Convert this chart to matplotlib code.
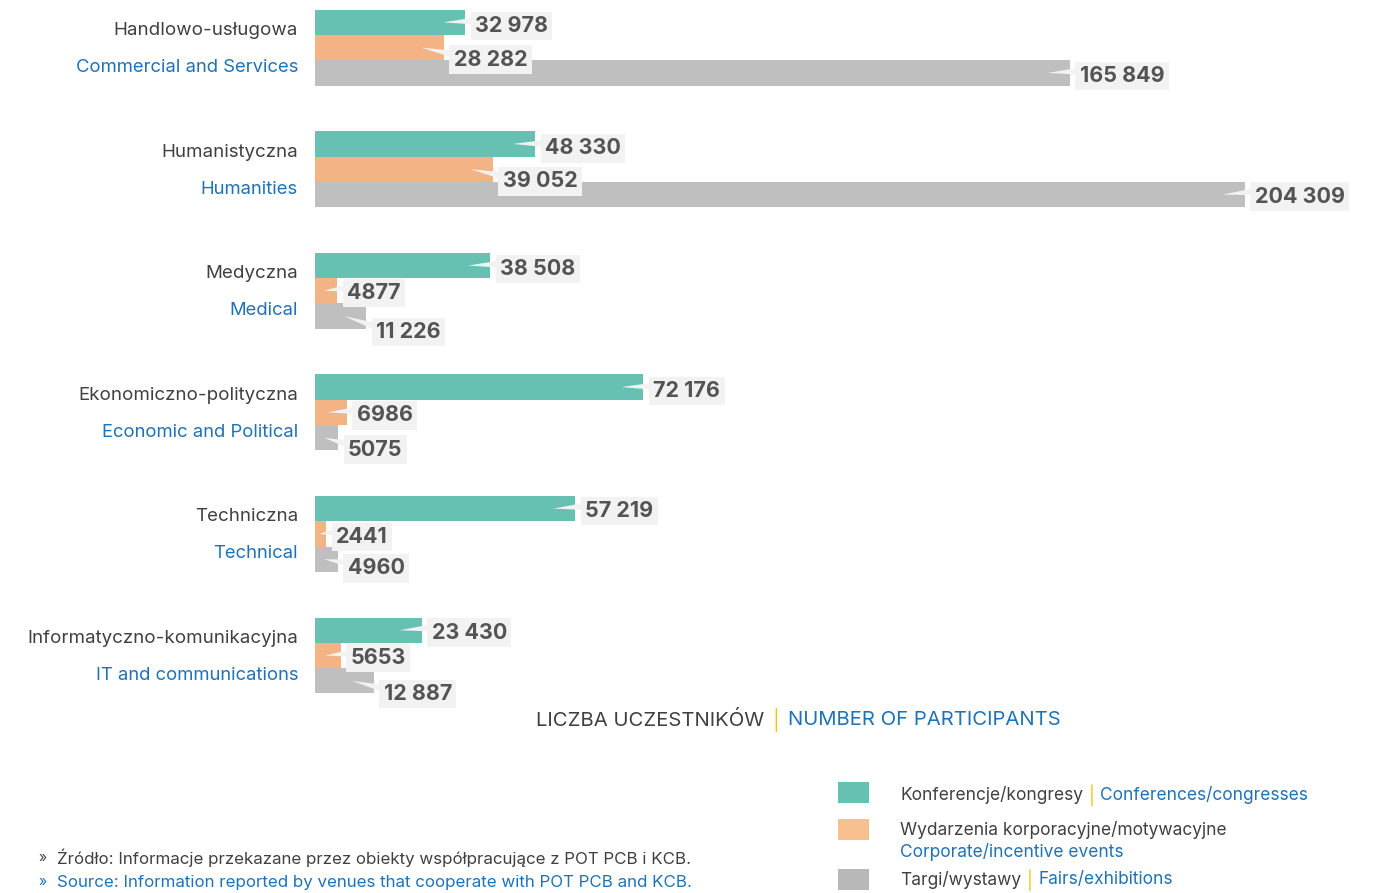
import matplotlib.pyplot as plt
from matplotlib.patches import Rectangle
from matplotlib.transforms import offset_copy

plt.rcParams['font.family'] = ['Inter', 'DejaVu Sans']

categories_pl = ['Handlowo-usługowa', 'Humanistyczna', 'Medyczna',
                 'Ekonomiczno-polityczna', 'Techniczna', 'Informatyczno-komunikacyjna']
categories_en = ['Commercial and Services', 'Humanities', 'Medical',
                 'Economic and Political', 'Technical', 'IT and communications']
conferences = [32978, 48330, 38508, 72176, 57219, 23430]
corporate = [28282, 39052, 4877, 6986, 2441, 5653]
fairs = [165849, 204309, 11226, 5075, 4960, 12887]

# label vertical shifts (px, downwards) to keep the value boxes apart
shift_conf = [1.5, 2.5, 1.5, 2, 0.5, 0.5]
shift_corp = [10, 10, 0, 1, 1, 0.5]
shift_fairs = [1, 0, 14, 10, 7, 11]

TEAL = '#67c1b3'
ORANGE = '#f4b385'
GREY = '#bfbfbf'
BOX = '#f2f2f2'
DARK = '#404040'
BLUE = '#1f72b8'
PIPE = '#f0c419'
VAL = '#545454'

W, H, DPI = 1379, 893, 100
fig = plt.figure(figsize=(W / DPI, H / DPI), dpi=DPI)

ax_left, ax_w = 315, 1064
ax = fig.add_axes([ax_left / W, 1 - 710 / H, ax_w / W, 710 / H])
xmax = 233800
ax.set_xlim(0, xmax)
ax.set_ylim(5.448, -0.392)
ax.axis('off')
unit_per_px = xmax / ax_w

h = 0.208
pos = list(range(len(categories_pl)))
ax.barh([p - h for p in pos], conferences, height=h, color=TEAL)
ax.barh(pos, corporate, height=h, color=ORANGE)
ax.barh([p + h for p in pos], fairs, height=h, color=GREY)


def fmt(v):
    return f'{v:,}'.replace(',', ' ') if v >= 10000 else str(v)


def callout(value, y, dy):
    tip = max(value - 22 * unit_per_px, value * 0.4)
    tr = offset_copy(ax.transData, fig=fig, x=10, y=-(dy + 2), units='dots')
    ax.annotate(fmt(value), xy=(tip, y), xytext=(value, y), textcoords=tr,
                ha='left', va='center', fontsize=15.5, fontweight='bold', color=VAL,
                bbox=dict(boxstyle='square,pad=0.2', fc=BOX, ec='none'),
                arrowprops=dict(arrowstyle='wedge,tail_width=0.35,shrink_factor=0.5',
                                fc=BOX, ec='none', relpos=(0.02, 0.75),
                                patchA=None, shrinkA=0, shrinkB=0),
                zorder=5)


for i, p in enumerate(pos):
    callout(conferences[i], p - h, shift_conf[i])
    callout(corporate[i], p, shift_corp[i])
    callout(fairs[i], p + h, shift_fairs[i])
    lab_pl = offset_copy(ax.transData, fig=fig, x=-17, y=17, units='dots')
    lab_en = offset_copy(ax.transData, fig=fig, x=-17, y=-20, units='dots')
    ax.text(0, p, categories_pl[i], transform=lab_pl, ha='right', va='center',
            fontsize=13.5, color=DARK)
    ax.text(0, p, categories_en[i], transform=lab_en, ha='right', va='center',
            fontsize=13.3, color=BLUE)


def fx(x):
    return x / W


def fy(y):
    return 1 - y / H


def chain(x, y, parts, size, gap=4):
    # pieces of differently coloured text laid out one after another
    last = None
    for text, color in parts:
        if last is None:
            last = fig.text(fx(x), fy(y), text, ha='left', va='center',
                            fontsize=size, color=color)
        else:
            last = plt.annotate(text, xy=(1, 0.5), xycoords=last, xytext=(gap, 0),
                                textcoords='offset points', ha='left', va='center',
                                fontsize=size, color=color, annotation_clip=False)
    return last


# axis caption
chain(536, 720, [('LICZBA UCZESTNIKÓW', DARK), ('|', PIPE),
                 ('NUMBER OF PARTICIPANTS', BLUE)], 14.6, gap=6)

# legend
legend_rows = [(782, TEAL), (819, '#f9c08f'), (869, '#b8b8b8')]
for top, col in legend_rows:
    fig.patches.append(Rectangle((fx(838), fy(top + 21)), 31 / W, 21 / H,
                                 transform=fig.transFigure, fc=col, ec='none'))
chain(900, 795, [('Konferencje/kongresy', DARK), ('|', PIPE),
                 ('Conferences/congresses', BLUE)], 12.5)
fig.text(fx(900), fy(830), 'Wydarzenia korporacyjne/motywacyjne', ha='left',
         va='center', fontsize=12.5, color=DARK)
fig.text(fx(900), fy(852), 'Corporate/incentive events', ha='left',
         va='center', fontsize=12.5, color=BLUE)
chain(900, 880, [('Targi/wystawy', DARK), ('|', PIPE),
                 ('Fairs/exhibitions', BLUE)], 12.5)

# source notes
fig.text(fx(38), fy(858), '»', ha='left', va='center', fontsize=10, color=DARK)
fig.text(fx(57), fy(858), 'Źródło: Informacje przekazane przez obiekty współpracujące z POT PCB i KCB.',
         ha='left', va='center', fontsize=12.2, color=DARK)
fig.text(fx(38), fy(882), '»', ha='left', va='center', fontsize=10, color=BLUE)
fig.text(fx(57), fy(882), 'Source: Information reported by venues that cooperate with POT PCB and KCB.',
         ha='left', va='center', fontsize=12.2, color=BLUE)

fig.savefig('out.png', dpi=DPI)
